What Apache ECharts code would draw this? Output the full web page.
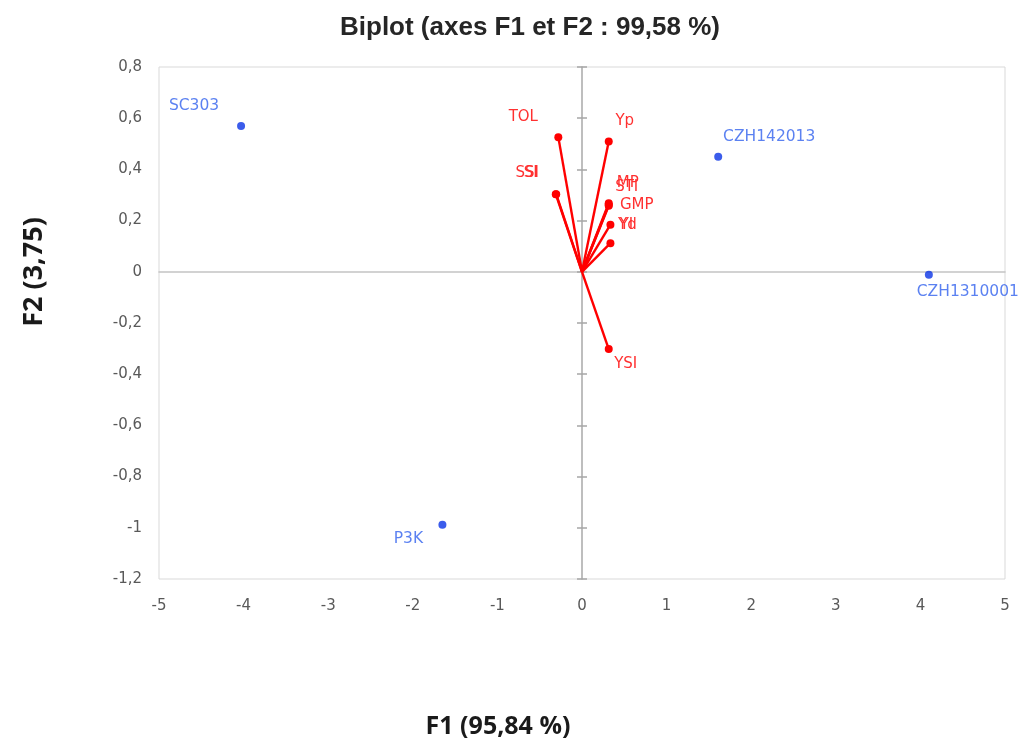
<!DOCTYPE html>
<html><head><meta charset="utf-8">
<script src="https://cdn.jsdelivr.net/npm/echarts@6/dist/echarts.min.js"></script>
<style>html,body{margin:0;padding:0;background:#fff}#c{width:1019px;height:740px}</style>
</head><body><div id="c"></div>
<script>
// ---- data ----
const titleText = 'Biplot (axes F1 et F2 : 99,58 %)';
const xAxisName = 'F1 (95,84 %)';
const yAxisName = 'F2 (3,75)';
const xTicks = [-5, -4, -3, -2, -1, 0, 1, 2, 3, 4, 5];
const xTickLabels = ['-5', '-4', '-3', '-2', '-1', '0', '1', '2', '3', '4', '5'];
const yTicks = [-1.2, -1, -0.8, -0.6, -0.4, -0.2, 0, 0.2, 0.4, 0.6, 0.8];
const yTickLabels = ['-1,2', '-1', '-0,8', '-0,6', '-0,4', '-0,2', '0', '0,2', '0,4', '0,6', '0,8'];

const obsNames = ['SC303', 'CZH142013', 'CZH1310001', 'P3K'];
const obsF1 = [-4.03, 1.61, 4.10, -1.65];
const obsF2 = [0.57, 0.449, -0.012, -0.988];

const varNames = ['TOL', 'SSI', 'SI', 'Yp', 'MP', 'STI', 'GMP', 'Yd', 'YI', 'YSI'];
const varF1 = [-0.28, -0.305, -0.31, 0.316, 0.316, 0.316, 0.316, 0.336, 0.336, 0.316];
const varF2 = [0.526, 0.303, 0.303, 0.509, 0.268, 0.262, 0.258, 0.184, 0.112, -0.302];

// label placement (pixel offsets of label centre from its point)
const obsLabelOffset = [[-47, -20], [51, -20], [39, 17], [-34, 14]];
const varLabelOffset = [[-35, -20], [-29, -21], [-25, -21], [16, -20], [19, -20], [18, -18], [28, -1], [17, 0], [16, -18], [17, 15]];

// ---- chart ----
const chart = echarts.init(document.getElementById('c'), null, {renderer: 'canvas'});
const tickFont = 'DejaVu Sans';
const labelFont = 'DejaVu Sans';

function fmt(list, labels) {
  return function (v) {
    for (let i = 0; i < list.length; i++) if (Math.abs(list[i] - v) < 1e-6) return labels[i];
    return '';
  };
}

const series = [];
// observations
series.push({
  type: 'scatter',
  xAxisIndex: 0, yAxisIndex: 0,
  symbolSize: 8,
  itemStyle: {color: '#0a33e6'},
  z: 5,
  data: obsNames.map((n, i) => ({
    value: [obsF1[i], obsF2[i]],
    name: n,
    label: {
      show: true, formatter: n, position: 'inside',
      offset: obsLabelOffset[i], align: 'center', verticalAlign: 'middle',
      color: '#3262ee', fontFamily: labelFont, fontSize: 15.5
    }
  }))
});
// variable vectors
varNames.forEach((n, i) => {
  series.push({
    type: 'line',
    xAxisIndex: 0, yAxisIndex: 0,
    symbol: 'circle',
    showSymbol: true,
    lineStyle: {color: '#ff0000', width: 2.4},
    itemStyle: {color: '#ff0000'},
    z: 4,
    data: [
      {value: [0, 0], symbolSize: 0, label: {show: false}},
      {value: [varF1[i], varF2[i]], symbolSize: 8,
        label: {
          show: true, formatter: n, position: 'inside',
          offset: varLabelOffset[i], align: 'center', verticalAlign: 'middle',
          color: '#ff3030', fontFamily: labelFont, fontSize: 15
        }}
    ]
  });
});

const common = {type: 'value', min: -5, max: 5, interval: 1};
const commonY = {type: 'value', min: -1.2, max: 0.8, interval: 0.2};

const option = {
  animation: false,
  backgroundColor: '#ffffff',
  grid: {left: 159, right: 14, top: 67, bottom: 161, show: true, borderColor: '#d9d9d9', borderWidth: 1, containLabel: false, outerBoundsMode: 'none'},
  xAxis: [
    Object.assign({}, common, {
      position: 'bottom',
      axisLine: {show: false, onZero: false},
      axisTick: {show: false},
      splitLine: {show: false},
      axisLabel: {formatter: fmt(xTicks, xTickLabels), color: '#595959', fontFamily: tickFont, fontSize: 15, margin: 20}
    }),
    Object.assign({}, common, {
      position: 'bottom',
      axisLine: {show: true, onZero: true, onZeroAxisIndex: 0, lineStyle: {color: '#c4c4c4', width: 1.5}},
      axisTick: {show: false},
      splitLine: {show: false},
      axisLabel: {show: false}
    })
  ],
  yAxis: [
    Object.assign({}, commonY, {
      position: 'left',
      axisLine: {show: false, onZero: false},
      axisTick: {show: false},
      splitLine: {show: false},
      axisLabel: {formatter: fmt(yTicks, yTickLabels), color: '#595959', fontFamily: tickFont, fontSize: 15, margin: 17}
    }),
    Object.assign({}, commonY, {
      position: 'left',
      axisLine: {show: true, onZero: true, onZeroAxisIndex: 0, lineStyle: {color: '#a8a8a8', width: 1.5}},
      axisTick: {show: true, inside: false, length: 5, lineStyle: {color: '#a6a6a6', width: 1.5}},
      splitLine: {show: false},
      axisLabel: {show: false}
    }),
    Object.assign({}, commonY, {
      position: 'left',
      axisLine: {show: false, onZero: true, onZeroAxisIndex: 0},
      axisTick: {show: true, inside: true, length: 5, lineStyle: {color: '#a6a6a6', width: 1.5}},
      splitLine: {show: false},
      axisLabel: {show: false}
    })
  ],
  graphic: [
    {type: 'text', x: 530, y: 28, style: {text: titleText, font: 'bold 26px "Liberation Sans", Arial, sans-serif', fill: '#262626', align: 'center', verticalAlign: 'middle', textAlign: 'center', textVerticalAlign: 'middle'}},
    {type: 'text', x: 34, y: 272, rotation: Math.PI / 2, style: {text: yAxisName, font: 'bold 27px "Open Sans", sans-serif', fill: '#1a1a1a', align: 'center', verticalAlign: 'middle', textAlign: 'center', textVerticalAlign: 'middle'}},
    {type: 'text', x: 498, y: 727, style: {text: xAxisName, font: 'bold 25px "Open Sans", sans-serif', fill: '#1a1a1a', align: 'center', verticalAlign: 'middle', textAlign: 'center', textVerticalAlign: 'middle'}}
  ],
  series: series
};
chart.setOption(option);
</script>
</body></html>
